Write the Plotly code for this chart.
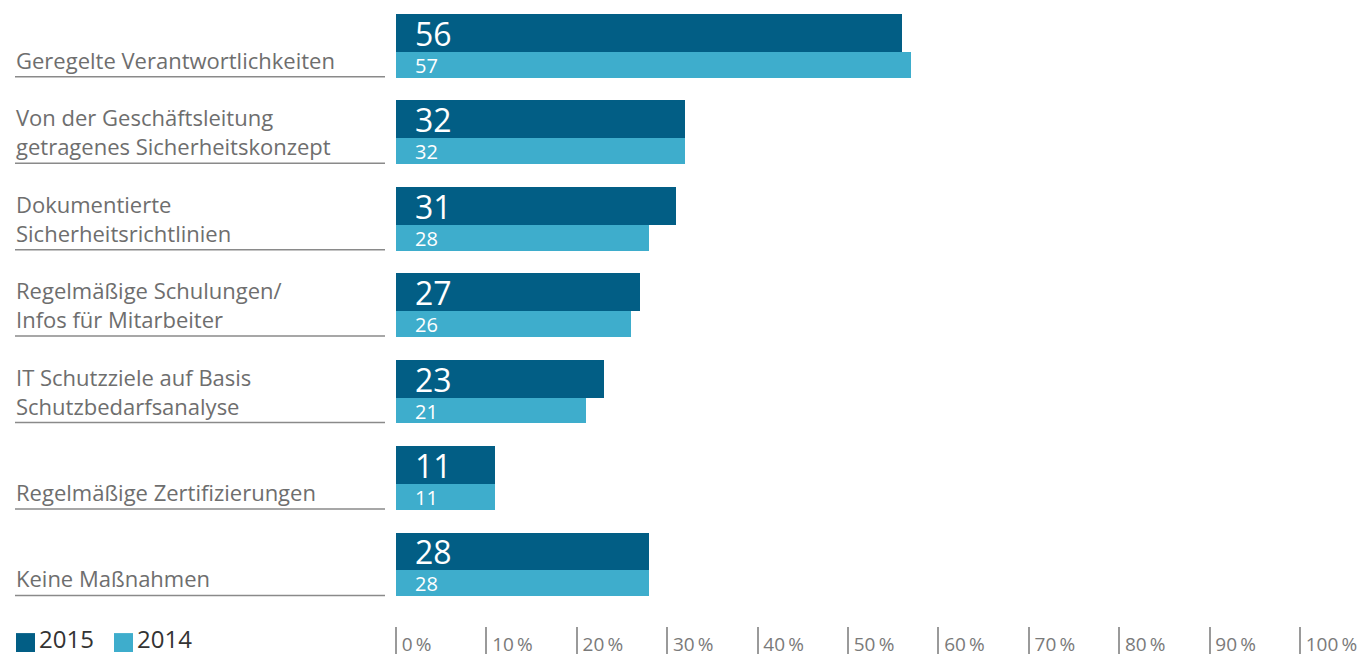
import plotly.graph_objects as go

categories = [
    "Geregelte Verantwortlichkeiten",
    "Von der Geschäftsleitung<br>getragenes Sicherheitskonzept",
    "Dokumentierte<br>Sicherheitsrichtlinien",
    "Regelmäßige Schulungen/<br>Infos für Mitarbeiter",
    "IT Schutzziele auf Basis<br>Schutzbedarfsanalyse",
    "Regelmäßige Zertifizierungen",
    "Keine Maßnahmen",
]
values_2015 = [56, 32, 31, 27, 23, 11, 28]
values_2014 = [57, 32, 28, 26, 21, 11, 28]
series_names = ["2015", "2014"]
tick_values = [0, 10, 20, 30, 40, 50, 60, 70, 80, 90, 100]
tick_labels = [f"{v}\u2009%" for v in tick_values]

W, H = 1360, 657
C_DARK = "#025e85"
C_LIGHT = "#3eadcc"
FONT = "Open Sans"
PX_PER_CAT = 86.83
TOP_CENTER = 46
X0_PX = 396          # pixel of 0 %
PX_PER_PCT = 9.04    # pixels per percentage point
DOM_LEFT = 390

fig = go.Figure()
fig.add_trace(go.Bar(
    y=categories, x=values_2015, orientation="h", name=series_names[0],
    marker=dict(color=C_DARK, line=dict(width=0)),
    offset=-32 / PX_PER_CAT, width=38 / PX_PER_CAT, hoverinfo="x+name",
))
fig.add_trace(go.Bar(
    y=categories, x=values_2014, orientation="h", name=series_names[1],
    marker=dict(color=C_LIGHT, line=dict(width=0)),
    offset=6 / PX_PER_CAT, width=26 / PX_PER_CAT, hoverinfo="x+name",
))

annotations = []
shapes = []
for cat, v15, v14 in zip(categories, values_2015, values_2014):
    annotations.append(dict(
        x=0, y=cat, xref="x", yref="y", text=str(v15), showarrow=False,
        xanchor="left", yanchor="middle", xshift=17, yshift=13, height=34,
        font=dict(family=FONT, size=32, color="white"),
    ))
    annotations.append(dict(
        x=0, y=cat, xref="x", yref="y", text=str(v14), showarrow=False,
        xanchor="left", yanchor="middle", xshift=17, yshift=-19, height=22,
        font=dict(family=FONT, size=20, color="white"),
    ))
    annotations.append(dict(
        x=14 / W, y=cat, xref="paper", yref="y", text=cat, showarrow=False,
        xanchor="left", yanchor="bottom", align="left", yshift=-31,
        font=dict(family=FONT, size=22, color="#6e6e6e"),
    ))
    shapes.append(dict(
        type="line", xref="paper", yref="y", ysizemode="pixel", yanchor=cat,
        x0=15 / W, x1=385 / W, y0=-31, y1=-31,
        line=dict(color="#8a8a8a", width=1.5),
    ))

# legend
for i, (name, col) in enumerate(zip(series_names, [C_DARK, C_LIGHT])):
    x0 = 16 + i * 98
    shapes.append(dict(
        type="rect", xref="paper", yref="paper",
        x0=x0 / W, x1=(x0 + 19) / W, y0=2 / H, y1=21 / H,
        fillcolor=col, line=dict(width=0),
    ))
    annotations.append(dict(
        x=(x0 + 21) / W, y=0, xref="paper", yref="paper", text=name,
        showarrow=False, xanchor="left", yanchor="bottom", yshift=-3,
        font=dict(family=FONT, size=24, color="#333333"),
    ))

fig.update_layout(
    width=W, height=H,
    margin=dict(l=0, r=0, t=0, b=0),
    plot_bgcolor="white", paper_bgcolor="white",
    barmode="overlay", showlegend=False, bargap=0,
    font=dict(family=FONT),
    xaxis=dict(
        domain=[DOM_LEFT / W, 1],
        range=[(DOM_LEFT - X0_PX) / PX_PER_PCT, (W - X0_PX) / PX_PER_PCT],
        tickvals=tick_values, ticktext=tick_labels,
        ticks="inside", ticklen=27, tickwidth=1.5, tickcolor="#9a9a9a",
        ticklabelposition="inside right", ticklabelstandoff=-7,
        ticklabelshift=5,
        tickfont=dict(family=FONT, size=19, color="#7a7a7a"),
        showgrid=False, zeroline=False, showline=False, fixedrange=True,
    ),
    yaxis=dict(
        type="category", categoryorder="array", categoryarray=categories,
        range=[(H - TOP_CENTER) / PX_PER_CAT, -TOP_CENTER / PX_PER_CAT],
        visible=False, fixedrange=True,
    ),
    annotations=annotations, shapes=shapes,
)

fig.write_html(
    "out.html",
    config={"displayModeBar": False},
    post_script="document.body.style.margin='0';document.body.style.overflow='hidden';",
)
